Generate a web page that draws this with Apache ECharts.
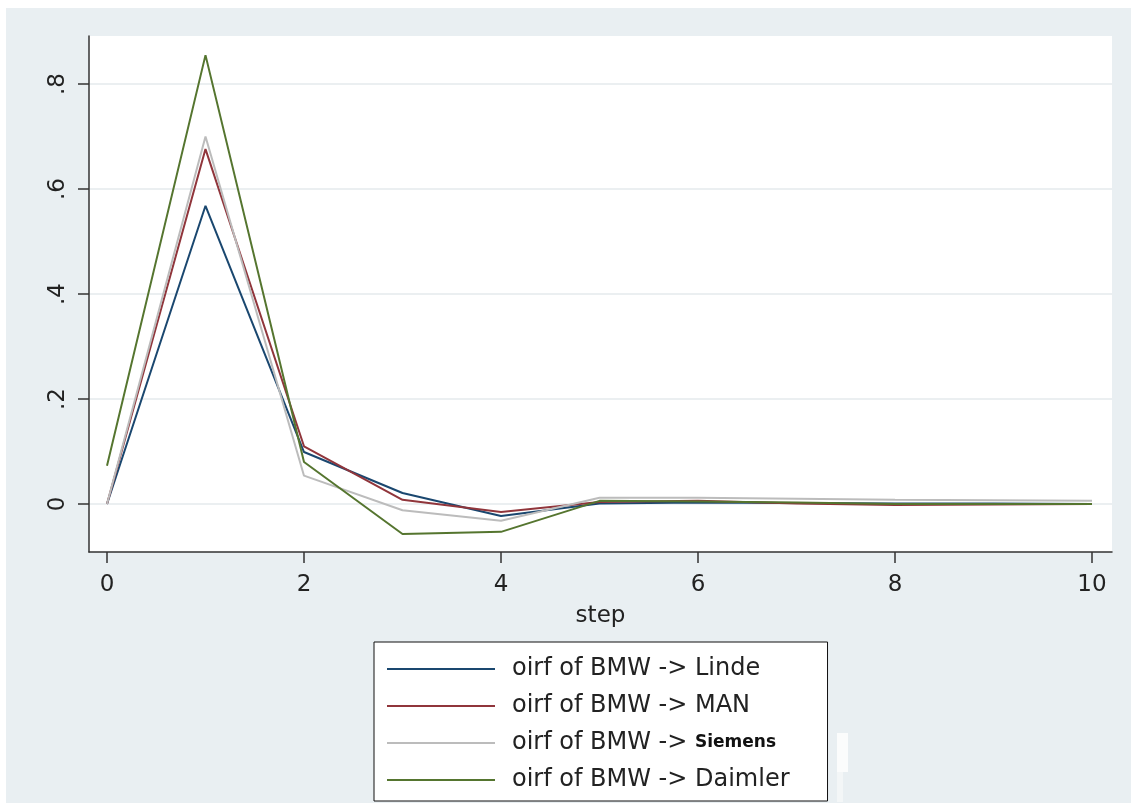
<!DOCTYPE html>
<html>
<head>
<meta charset="utf-8">
<script src="https://cdn.jsdelivr.net/npm/echarts@6/dist/echarts.min.js"></script>
<style>
html,body{margin:0;padding:0;background:#fff;}
#chart{position:absolute;left:6px;top:8px;width:1125px;height:795px;}
</style>
</head>
<body>
<div id="chart"></div>
<script>
const steps = [0,1,2,3,4,5,6,7,8,9,10];
const linde   = [0, 0.568, 0.099, 0.021, -0.023, 0.001, 0.003, 0.002, 0.001, 0.001, 0.000];
const man     = [0, 0.676, 0.110, 0.008, -0.015, 0.004, 0.006, 0.001, -0.002, -0.001, 0.000];
const siemens = [0, 0.700, 0.054, -0.012, -0.032, 0.012, 0.012, 0.010, 0.008, 0.007, 0.006];
const daimler = [0.073, 0.855, 0.080, -0.057, -0.053, 0.006, 0.005, 0.003, 0.000, 0.000, 0.000];
const xTicks = [0,2,4,6,8,10];
const yTicks = [0,0.2,0.4,0.6,0.8];
const yTickLabels = ['0','.2','.4','.6','.8'];
const seriesNames = ['oirf of BMW -> Linde','oirf of BMW -> MAN','oirf of BMW -> Siemens','oirf of BMW -> Daimler'];
const colors = ['#1a476f','#90353b','#bcbcbc','#55752f'];

const pairs = arr => steps.map((s,i)=>[s,arr[i]]);
const chart = echarts.init(document.getElementById('chart'));
const font = 'DejaVu Sans, Liberation Sans, Arial, sans-serif';
chart.setOption({
  backgroundColor:'#e9eff2',
  animation:false,
  grid:{left:83,right:19,top:28,bottom:251,show:true,backgroundColor:'#ffffff',borderWidth:0},
  xAxis:{
    type:'value',min:-0.1827,max:10.203,
    name:'step',nameLocation:'middle',nameGap:53,
    nameTextStyle:{fontFamily:font,fontSize:23,color:'#222'},
    axisLine:{show:true,onZero:false,lineStyle:{color:'#333',width:1.5}},
    axisTick:{show:true,length:11,customValues:xTicks,lineStyle:{color:'#333',width:1.5}},
    axisLabel:{customValues:xTicks,fontFamily:font,fontSize:23,color:'#222',margin:22},
    splitLine:{show:false}
  },
  yAxis:{
    type:'value',min:-0.0914,max:0.8914,
    axisLine:{show:true,onZero:false,lineStyle:{color:'#333',width:1.5}},
    axisTick:{show:true,length:11,customValues:yTicks,lineStyle:{color:'#333',width:1.5}},
    axisLabel:{customValues:yTicks,rotate:90,fontFamily:font,fontSize:23,color:'#222',margin:19,
      formatter:v=>{const i=yTicks.findIndex(t=>Math.abs(t-v)<1e-6);return i>=0?yTickLabels[i]:'';}},
    splitLine:{show:true,lineStyle:{color:'#e4eaed',width:1.5}}
  },
  legend:{
    left:368,top:634,orient:'vertical',
    backgroundColor:'#fff',borderColor:'#111',borderWidth:1,
    padding:[14,38,8,13],
    icon:'rect',itemWidth:108,itemHeight:2,itemGap:11,
    formatter:name=>{
      if(name.indexOf('Siemens')>=0) return '{g|}{a|oirf of BMW -> }{b|Siemens}';
      return '{g|}{a|'+name+'}';
    },
    textStyle:{fontFamily:font,fontSize:24,color:'#222',lineHeight:26,
      rich:{g:{width:12},a:{fontFamily:font,fontSize:24,color:'#222',lineHeight:26},b:{fontFamily:font,fontSize:17,fontWeight:'bold',color:'#111',lineHeight:26}}},
    data:seriesNames
  },
  graphic:[{type:'rect',shape:{x:831,y:725,width:11,height:39},style:{fill:'#fbfcfc'},silent:true,z:100},
           {type:'rect',shape:{x:831,y:764,width:6,height:30},style:{fill:'#f3f6f7'},silent:true,z:100}],
  series:[linde,man,siemens,daimler].map((d,i)=>({
    type:'line',name:seriesNames[i],data:pairs(d),symbol:'none',
    lineStyle:{color:colors[i],width:2},itemStyle:{color:colors[i]}
  }))
});
</script>
</body>
</html>
